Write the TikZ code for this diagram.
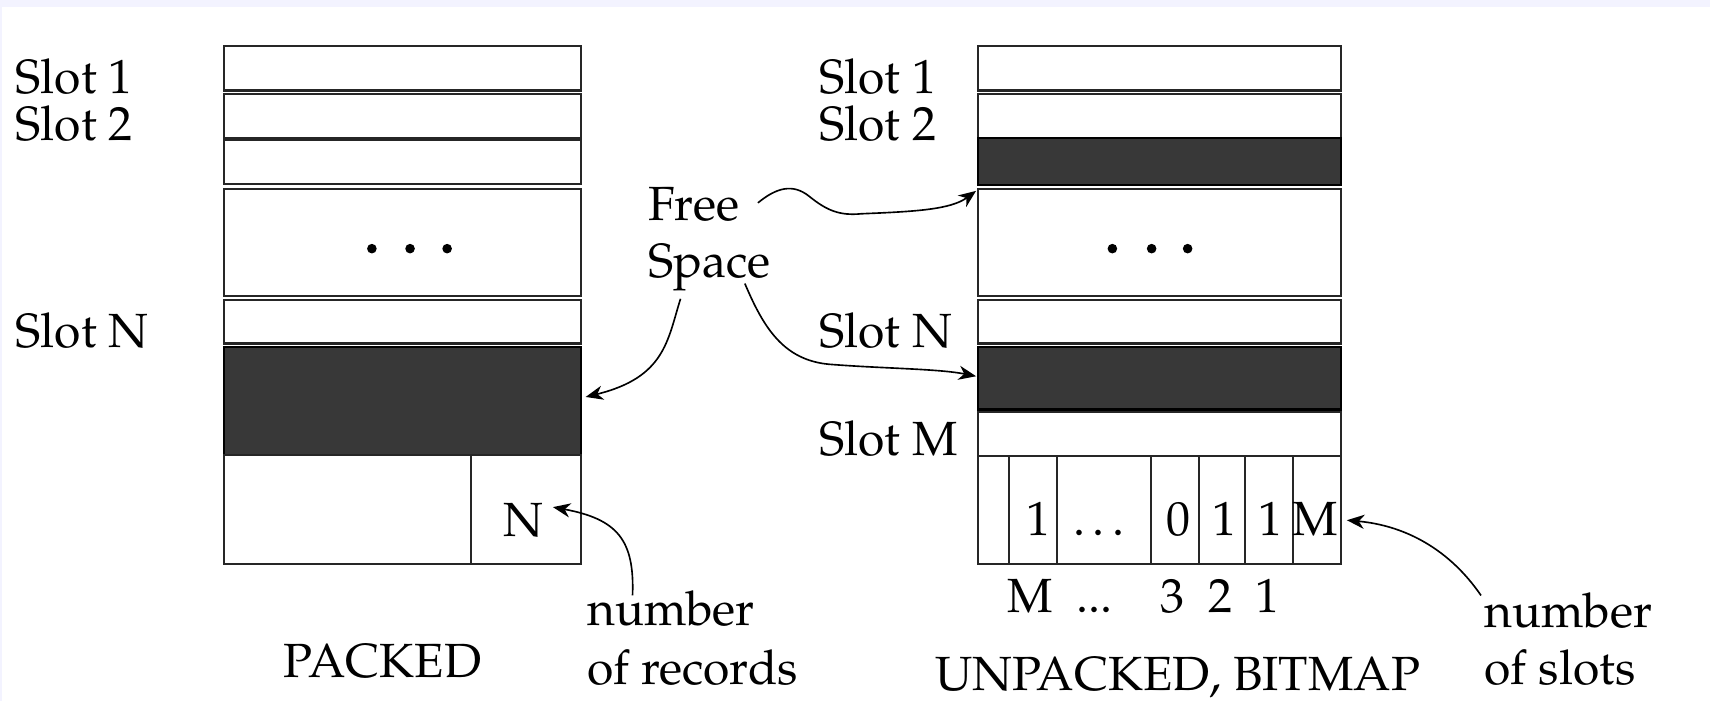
\documentclass[tikz,border=0pt]{standalone}
\usepackage[T1]{fontenc}
\usepackage{mathpazo}
\usetikzlibrary{arrows.meta}
\definecolor{lav}{RGB}{243,243,255}
\definecolor{darkfill}{RGB}{56,56,56}
\newcommand\fs{\fontsize{22}{26}\selectfont}
\begin{document}
\begin{tikzpicture}[x=0.5pt,y=-0.5pt,
  box/.style={draw=black!85, line width=0.95pt},
  darkbox/.style={draw=black, line width=0.95pt, fill=darkfill},
  lbl/.style={anchor=base west, inner sep=0pt, font=\fs},
  cbl/.style={anchor=base, inner sep=0pt, font=\fs},
  arr/.style={draw=black, line width=0.75pt, -{Stealth[length=8pt,width=6.5pt,inset=2.5pt]}},
  dot/.style={fill=black}]
% background and frame strips
\fill[white] (0,0) rectangle (1568,643);
\fill[lav] (0,0) rectangle (1568,6);
\fill[lav] (0,0) rectangle (2,643);
\useasboundingbox (0,0) rectangle (1568,643);

% ---------- PACKED (left) ----------
\draw[box] (205,42) rectangle (533,83);
\draw[box] (205,86.5) rectangle (533,126.5);
\draw[box] (205,128.5) rectangle (533,168.5);
\draw[box] (205,173) rectangle (533,271);
\draw[box] (205,275.5) rectangle (533,315);
\draw[darkbox] (205,318) rectangle (533,417);
\draw[box] (205,417) rectangle (533,517);
\draw[box] (432,417) -- (432,517);
\fill[dot] (341,228) circle (4.4) (376,228) circle (4.4) (410,228) circle (4.4);
\coordinate (ldark) at (537,364);

\node[lbl] (ls1) at (14,86) {Slot 1};
\node[lbl] (ls2) at (14,128.5) {Slot 2};
\node[lbl] (lsn) at (14,319) {Slot N};
\node[cbl] (nrec) at (480,492) {N};
\node[lbl] (packed) at (260,621) {PACKED};
\node[lbl] (numrec1) at (538,574) {number};
\node[lbl] (numrec2) at (538,628) {of records};

% ---------- UNPACKED, BITMAP (right) ----------
\draw[box] (897,42) rectangle (1230,83);
\draw[box] (897,86.5) rectangle (1230,126.5);
\draw[darkbox] (897,126.5) rectangle (1230,170);
\draw[box] (897,173) rectangle (1230,271);
\draw[box] (897,275.5) rectangle (1230,315);
\draw[darkbox] (897,318) rectangle (1230,375.5);
\draw[box] (897,377.5) rectangle (1230,418);
\draw[box] (897,418) rectangle (1230,517);
\foreach \xx in {925,969,1055,1099.5,1141.5,1186}
  \draw[box] (\xx,418) -- (\xx,517);
\fill[dot] (1020,228) circle (4.4) (1056,228) circle (4.4) (1089,228) circle (4.4);
\coordinate (rfree) at (895,175);
\coordinate (rdark) at (895,345);

\node[lbl] (rs1) at (751,86) {Slot 1};
\node[lbl] (rs2) at (751,128.5) {Slot 2};
\node[lbl] (rsn) at (751,319) {Slot N};
\node[lbl] (rsm) at (751,418) {Slot M};

\node[cbl] (b1) at (952,491) {1};
\node[cbl] (bd) at (1011,491) {\ldots};
\node[cbl] (b0) at (1081,491) {0};
\node[cbl] (b2) at (1123,491) {1};
\node[cbl] (b3) at (1165,491) {1};
\node[cbl] (bm) at (1206,491) {M};

\node[cbl] (im) at (945,562) {M};
\node[cbl] (idots) at (1004,562) {...};
\node[cbl] (i3) at (1075,562) {3};
\node[cbl] (i2) at (1119,562) {2};
\node[cbl] (i1) at (1162,562) {1};

\node[lbl] (unpacked) at (857,633) {UNPACKED, BITMAP};
\node[lbl] (numsl1) at (1361,575) {number};
\node[lbl] (numsl2) at (1361,628) {of slots};

% ---------- Free Space ----------
\node[lbl] (free) at (594,202) {Free};
\node[lbl] (space) at (594,254) {Space};

% ---------- connectors ----------
\coordinate (fs1) at (695,186);
\coordinate (sp1) at (624,274);
\coordinate (sp2) at (683,260);
\coordinate (nr1) at (580,546);
\coordinate (ns1) at (1358,546);

\draw[arr] (fs1) .. controls (712,172) and (727,168) .. (742,180)
                 .. controls (758,193) and (770,198) .. (790,196)
                 .. controls (840,194) and (872,192) .. (rfree);
\draw[arr] (sp1) .. controls (612,312) and (610,346) .. (ldark);
\draw[arr] (sp2) .. controls (700,300) and (718,330) .. (760,334)
                 .. controls (810,338) and (860,338) .. (rdark);
\draw[arr] (nr1) .. controls (582,495) and (566,476) .. (507,465);
\draw[arr] (ns1) .. controls (1330,505) and (1290,482) .. (1235,477);
\end{tikzpicture}
\end{document}
